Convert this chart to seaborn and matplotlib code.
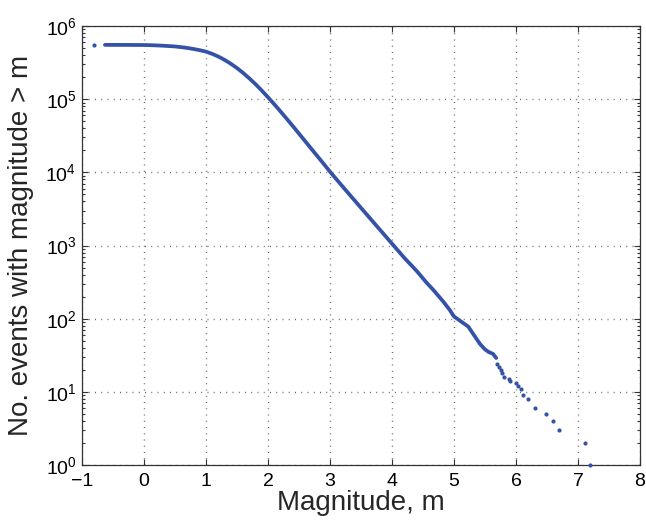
import numpy as np
import pandas as pd
import matplotlib
matplotlib.use("Agg")
import matplotlib.pyplot as plt
import seaborn as sns
from matplotlib.ticker import LogLocator, FixedLocator, NullFormatter

# ---- data ----
# dense part of the cumulative curve (magnitude, count of events with magnitude > m)
dense_mag = [-0.63, -0.3, 0.0, 0.1, 0.2, 0.3, 0.4, 0.5, 0.6, 0.7, 0.8, 0.9,
             1.0, 1.1, 1.2, 1.3, 1.4, 1.5, 1.6, 1.7, 1.8, 1.9,
             2.0, 2.1, 2.2, 2.3, 2.4, 2.5, 2.6, 2.7, 2.8, 2.9,
             3.0, 3.25, 3.5, 3.75, 4.0, 4.2, 4.4, 4.55, 4.67, 4.83, 4.93,
             5.0, 5.05, 5.15, 5.23, 5.32, 5.42, 5.5, 5.56, 5.63, 5.68]
dense_count = [552000, 551500, 549500, 547000, 543000, 538000, 532000, 525000,
               514000, 501000, 485000, 467000,
               446000, 416000, 382000, 344000, 305000, 266000, 228000, 192000,
               160000, 131000,
               106000, 85500, 68200, 54200, 42900, 33800, 26600, 20900, 16500,
               13000,
               10200, 5750, 3270, 1860, 1060, 676, 447, 316, 245, 170, 132,
               107, 100, 87, 78, 60, 45, 38, 35, 33, 29]
# isolated points
sparse_mag = [-0.8, 5.70, 5.73, 5.75, 5.77, 5.81, 5.89, 5.91, 6.00, 6.04, 6.08,
              6.11, 6.20, 6.31, 6.48, 6.60, 6.70, 7.11, 7.20]
sparse_count = [552000, 24, 22, 20, 18, 16, 15, 14, 13, 12, 11, 9, 8, 6, 5, 4,
                3, 2, 1]

x_ticks = [-1, 0, 1, 2, 3, 4, 5, 6, 7, 8]
x_label = "Magnitude, m"
y_label = "No. events with magnitude > m"

dense = pd.DataFrame({"m": dense_mag, "n": dense_count})
sparse = pd.DataFrame({"m": sparse_mag, "n": sparse_count})

sns.set_theme(style="white")
plt.rcParams["font.family"] = ["Liberation Sans", "DejaVu Sans"]
plt.rcParams["mathtext.fontset"] = "custom"
plt.rcParams["mathtext.rm"] = "Liberation Sans"

blue = "#3352A8"
axcol = "#333333"

fig = plt.figure(figsize=(6.46, 5.25), dpi=100)
ax = fig.add_axes([82 / 646, 1 - 465 / 525, (640 - 82) / 646, (465 - 26) / 525])

sns.lineplot(data=dense, x="m", y="n", ax=ax, color=blue, linewidth=2.7,
             solid_capstyle="round", solid_joinstyle="round", zorder=3)
sns.scatterplot(data=sparse, x="m", y="n", ax=ax, color=blue, s=9,
                linewidth=0, zorder=3, clip_on=False)

ax.set_yscale("log")
ax.set_xlim(-1, 8)
ax.set_ylim(1, 1e6)
ax.xaxis.set_major_locator(FixedLocator(x_ticks))
ax.yaxis.set_major_locator(LogLocator(base=10, numticks=10))
ax.yaxis.set_minor_locator(LogLocator(base=10, subs=np.arange(2, 10), numticks=20))
ax.yaxis.set_minor_formatter(NullFormatter())

ax.grid(True, which="major", color="#666666", linestyle=(0, (0.7, 3.8)), linewidth=1.0)
for s in ax.spines.values():
    s.set_visible(True)
    s.set_color(axcol)
    s.set_linewidth(0.9)

ax.tick_params(which="both", direction="in", top=True, right=True, bottom=True,
               left=True, colors=axcol, labelcolor="black", width=0.8)
ax.tick_params(which="major", length=4.3, labelsize=14)
ax.tick_params(which="minor", length=2.4)
ax.tick_params(axis="x", which="major", pad=6)
ax.tick_params(axis="y", which="major", pad=4)

ax.set_xlabel(x_label, fontsize=20, labelpad=0)
ax.set_ylabel(y_label, fontsize=20, labelpad=8)

fig.savefig("out.png", dpi=100)
